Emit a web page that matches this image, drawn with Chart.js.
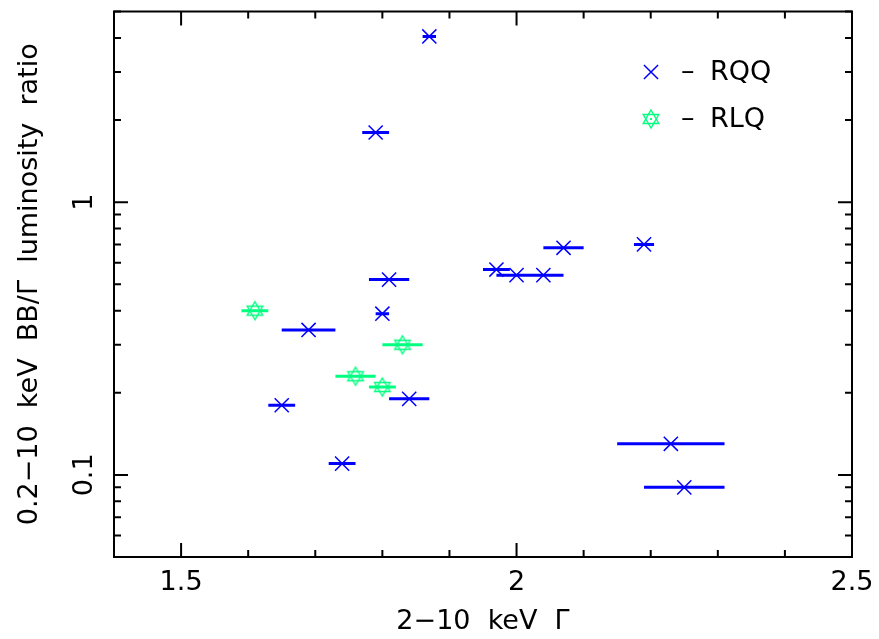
<!DOCTYPE html>
<html>
<head>
<meta charset="utf-8">
<title>BB/Γ luminosity ratio vs 2-10 keV Γ</title>
<script src="https://cdn.jsdelivr.net/npm/chart.js@4.4.1/dist/chart.umd.min.js"></script>
<style>
  html, body { margin: 0; padding: 0; background: #fff; }
  canvas { display: block; }
</style>
</head>
<body>
<canvas id="ratioChart" width="879" height="639"></canvas>
<script>
// Radio-quiet quasars: photon index, its error, BB/Γ luminosity ratio
const rqqGamma = [1.87, 1.79, 2.07, 2.19, 1.97, 2.00, 2.04, 1.81, 1.80, 1.69, 1.65, 1.84, 1.74, 2.23, 2.25];
const rqqGammaErr = [0.01, 0.02, 0.03, 0.015, 0.02, 0.03, 0.03, 0.03, 0.01, 0.04, 0.02, 0.03, 0.02, 0.08, 0.06];
const rqqRatio = [4.05, 1.80, 0.68, 0.70, 0.566, 0.54, 0.54, 0.52, 0.39, 0.34, 0.18, 0.19, 0.11, 0.13, 0.09];

// Radio-loud quasars
const rlqGamma = [1.61, 1.83, 1.76, 1.80];
const rlqGammaErr = [0.02, 0.03, 0.03, 0.02];
const rlqRatio = [0.40, 0.30, 0.23, 0.21];

// Axis ticks
const xTicks = [1.4, 1.5, 1.6, 1.7, 1.8, 1.9, 2.0, 2.1, 2.2, 2.3, 2.4, 2.5];
const xMajor = [1.5, 2.0, 2.5];
const yTicks = [0.05, 0.06, 0.07, 0.08, 0.09, 0.1, 0.2, 0.3, 0.4, 0.5, 0.6, 0.7, 0.8, 0.9, 1, 2, 3, 4, 5];
const yMajor = [0.1, 1];

const BLUE = '#0000ff';
const GREEN = '#00ff80';
const FONT = { family: 'DejaVu Sans', size: 27 };

function toPoints(xs, errs, ys) {
  return xs.map((g, i) => ({ x: g, y: ys[i], xErr: errs[i] }));
}

// six-pointed star marker
function starMarker(color) {
  const c = document.createElement('canvas');
  c.width = c.height = 22;
  const g = c.getContext('2d');
  g.strokeStyle = color;
  g.lineWidth = 1.4;
  const cx = 11, cy = 11, r = 9;
  [-90, 90].forEach(start => {
    g.beginPath();
    for (let k = 0; k < 3; k++) {
      const t = (start + k * 120) * Math.PI / 180;
      g.lineTo(cx + r * Math.cos(t), cy + r * Math.sin(t));
    }
    g.closePath();
    g.stroke();
  });
  g.fillStyle = color;
  g.fillRect(cx - 1, cy - 1, 2, 2);
  return c;
}
const starImg = starMarker(GREEN);

// horizontal error bars on Γ
const errorBars = {
  id: 'errorBars',
  beforeDatasetsDraw(chart) {
    const { ctx, scales: { x, y } } = chart;
    ctx.save();
    ctx.lineWidth = 3;
    chart.data.datasets.forEach(ds => {
      ctx.strokeStyle = ds.borderColor;
      ctx.beginPath();
      ds.data.forEach(p => {
        const py = y.getPixelForValue(p.y);
        ctx.moveTo(x.getPixelForValue(p.x - p.xErr), py);
        ctx.lineTo(x.getPixelForValue(p.x + p.xErr), py);
      });
      ctx.stroke();
    });
    ctx.restore();
  }
};

// box frame with inward ticks on all four sides
const frameTicks = {
  id: 'frameTicks',
  afterDatasetsDraw(chart) {
    const { ctx, chartArea: a, scales: { x, y } } = chart;
    ctx.save();
    ctx.strokeStyle = '#000';
    ctx.lineWidth = 2;
    ctx.strokeRect(a.left, a.top, a.right - a.left, a.bottom - a.top);
    ctx.beginPath();
    xTicks.forEach(v => {
      const px = x.getPixelForValue(v);
      const len = xMajor.includes(v) ? 14 : 7;
      ctx.moveTo(px, a.bottom); ctx.lineTo(px, a.bottom - len);
      ctx.moveTo(px, a.top); ctx.lineTo(px, a.top + len);
    });
    yTicks.forEach(v => {
      const py = y.getPixelForValue(v);
      const len = yMajor.includes(v) ? 14 : 7;
      ctx.moveTo(a.left, py); ctx.lineTo(a.left + len, py);
      ctx.moveTo(a.right, py); ctx.lineTo(a.right - len, py);
    });
    ctx.stroke();
    ctx.restore();
  }
};

// key in the upper right
const keyBox = {
  id: 'keyBox',
  afterDraw(chart) {
    const { ctx } = chart;
    const rows = [
      { label: 'RQQ', style: 'crossRot', color: BLUE, y: 72 },
      { label: 'RLQ', style: starImg, color: GREEN, y: 119 }
    ];
    ctx.save();
    ctx.font = FONT.size + 'px ' + FONT.family;
    ctx.textBaseline = 'middle';
    rows.forEach(r => {
      ctx.strokeStyle = r.color;
      ctx.fillStyle = r.color;
      ctx.lineWidth = 1.5;
      Chart.helpers.drawPoint(ctx, { pointStyle: r.style, radius: 10, rotation: 0, borderWidth: 1.5 }, 651, r.y);
      ctx.fillStyle = '#000';
      ctx.fillText('–', 681, r.y);
      ctx.fillText(r.label, 710, r.y + 1);
    });
    ctx.restore();
  }
};

new Chart(document.getElementById('ratioChart'), {
  type: 'scatter',
  data: {
    datasets: [
      {
        label: 'RQQ',
        data: toPoints(rqqGamma, rqqGammaErr, rqqRatio),
        pointStyle: 'crossRot',
        pointRadius: 10,
        borderWidth: 1.5,
        borderColor: BLUE,
        backgroundColor: BLUE
      },
      {
        label: 'RLQ',
        data: toPoints(rlqGamma, rlqGammaErr, rlqRatio),
        pointStyle: starImg,
        pointRadius: 10,
        borderColor: GREEN,
        backgroundColor: GREEN
      }
    ]
  },
  options: {
    responsive: false,
    animation: false,
    layout: { padding: { top: 10, right: 27, left: 0, bottom: 0 } },
    plugins: { legend: { display: false }, tooltip: { enabled: false } },
    scales: {
      x: {
        type: 'linear',
        min: 1.4,
        max: 2.5,
        grid: { display: false, drawTicks: false },
        border: { display: false },
        afterBuildTicks: s => { s.ticks = xTicks.map(v => ({ value: v })); },
        afterFit: s => {
          s.height = 82;
          s.paddingLeft = 0;
          s.paddingRight = 0;
        },
        ticks: {
          autoSkip: false,
          maxRotation: 0,
          padding: 10,
          color: '#000',
          font: FONT,
          callback: v => (xMajor.includes(v) ? String(v === 2 ? '2' : v) : '')
        },
        title: {
          display: true,
          text: '2−10  keV  Γ',
          color: '#000',
          font: FONT,
          padding: { top: 0, bottom: 1 }
        }
      },
      y: {
        type: 'logarithmic',
        min: 0.05,
        max: 5,
        grid: { display: false, drawTicks: false },
        border: { display: false },
        afterBuildTicks: s => { s.ticks = yTicks.map(v => ({ value: v })); },
        afterFit: s => {
          s.width = 114;
          s.paddingTop = 0;
          s.paddingBottom = 0;
        },
        ticks: {
          autoSkip: false,
          minRotation: 90,
          maxRotation: 90,
          crossAlign: 'center',
          padding: 8,
          color: '#000',
          font: FONT,
          callback: v => (v === 1 ? '1' : v === 0.1 ? '0.1' : '')
        },
        title: {
          display: true,
          text: '0.2−10  keV  BB/Γ  luminosity  ratio',
          color: '#000',
          font: FONT,
          padding: { top: 14, bottom: 0 }
        }
      }
    }
  },
  plugins: [errorBars, frameTicks, keyBox]
});
</script>
</body>
</html>
